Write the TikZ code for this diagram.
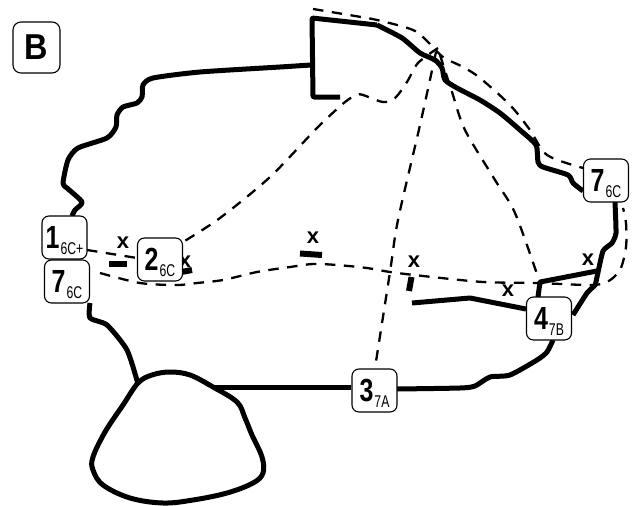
\documentclass[tikz,border=0pt]{standalone}
\usepackage{fontspec}
\setmainfont{Liberation Sans}
\tikzset{
 wall/.style={line width=5pt,line join=round,line cap=butt},
 fault/.style={line width=2.3pt,dash pattern=on 10.5pt off 8.5pt},
 tick/.style={line width=6pt},
 lab/.style={draw,line width=1.1pt,rounded corners=7pt,fill=white,minimum width=45pt,minimum height=43pt,inner sep=0pt},
 xm/.style={font=\bfseries\fontsize{22}{22}\selectfont,inner sep=0pt},
}
\newcommand{\lb}[2]{{\addfontfeature{FakeStretch=0.78}\bfseries\fontsize{32}{32}\selectfont #1}\hspace{1pt}\raisebox{-6pt}[\height][0pt]{\fontsize{17}{17}\selectfont\addfontfeature{FakeStretch=0.72}#2}}
\begin{document}
\begin{tikzpicture}[x=1pt,y=-1pt]
\useasboundingbox (0,0) rectangle (635,506);
% dashed
\draw[fault] plot[smooth,tension=0.5] coordinates {(438,48) (418,63) (407,82) (395,98) (383,102) (363,95) (357,95) (345,102) (317,128) (270,177) (220,218) (183,242)};
\draw[fault] plot[smooth,tension=0.5] coordinates {(436,52) (420,125) (398,220) (390,272) (375,368)};
\draw[fault] plot[smooth,tension=0.5] coordinates {(440,55) (452,92) (465,130) (495,180) (515,213) (538,277)};
\draw[fault] plot[smooth,tension=0.5] coordinates {(313,9) (343,14) (377,20) (413,30) (428,42) (443,57) (463,67) (480,78) (510,105) (530,130) (547,155) (583,168)};
\draw[fault] (87,250) -- (137,258);
\draw[fault] plot[smooth,tension=0.5] coordinates {(100,273) (140,283) (177,285) (197,283) (223,280) (257,272) (290,267) (313,264) (337,265) (367,268) (390,272) (423,276) (483,282) (537,283) (590,285) (607,282) (620,270) (626,247) (626,223) (623,208)};
% walls
\draw[wall] plot[smooth,tension=0.4] coordinates {(72,216) (75,210) (82,202) (67,188) (63,183) (68,160) (78,148) (107,138) (116,127) (117,115) (123,107) (137,103) (142,97) (143,85) (153,78) (200,72) (280,67) (311,65)};
\draw[wall,rounded corners=1pt] (340,97) -- (313,97) -- (312,18) -- (377,25);
\draw[wall] plot[smooth,tension=0.4] coordinates {(377,25) (402,38) (420,53) (435,60) (442,68) (445,80) (457,88) (480,100) (500,113) (520,130) (536,145) (538,162) (543,167) (568,175) (573,183) (583,191)};
\draw[wall] plot[smooth,tension=0.3] coordinates {(615,202) (616,233) (612,243) (603,251) (597,277) (595,285) (587,293) (573,315)};
\draw[wall] plot[smooth,tension=0.4] coordinates {(553,340) (547,352) (537,360) (510,375) (490,377) (475,386) (460,388) (397,389)};
\draw[wall] (351,387) -- (214,387);
\draw[wall] plot[smooth,tension=0.4] coordinates {(90,303) (90,318) (107,325) (127,350) (138,384)};
\draw[wall] (412,303) -- (470,298) -- (526,309);
\draw[wall] (538,297) -- (540,282) -- (597,271);
\draw[wall] plot[smooth cycle,tension=0.6] coordinates {(138,383) (152,375) (170,372) (190,375) (213,387) (237,402) (245,418) (252,435) (262,457) (263,473) (253,483) (227,493) (193,500) (163,503) (130,498) (103,485) (93,470) (93,457) (105,432) (123,405)};
% ticks
\draw[tick] (109,264) -- (127,264);
\draw[tick] (300,253.5) -- (322,255);
\draw[tick] (411.5,277) -- (409,291);
\draw[tick] (176,273) -- (192,270);
% x marks
\node[xm] (x1) at (123,243) {x};
\node[xm] (x2) at (313,238) {x};
\node[xm] (x3) at (414,262) {x};
\node[xm] (x4) at (508,291) {x};
\node[xm] (x5) at (588,260) {x};
\node[xm] (x6) at (185,262) {x};
% labels
\node[lab] (n1) at (64.5,237.5) {\lb{1}{6C+}};
\node[lab] (n7a) at (67,281.5) {\lb{7}{6C}};
\node[lab] (n2) at (160,259.5) {\lb{2}{6C}};
\node[lab] (n3) at (374.5,390.5) {\lb{3}{7A}};
\node[lab] (n4) at (549,318.5) {\lb{4}{7B}};
\node[lab] (n7b) at (606,180.5) {\lb{7}{6C}};
\node[draw,line width=1.1pt,rounded corners=8pt,minimum width=47pt,minimum height=51pt,inner sep=0pt,font=\bfseries\fontsize{36}{36}\selectfont] (B) at (36.5,47.5) {\addfontfeature{FakeStretch=0.9}B};
\end{tikzpicture}
\end{document}
